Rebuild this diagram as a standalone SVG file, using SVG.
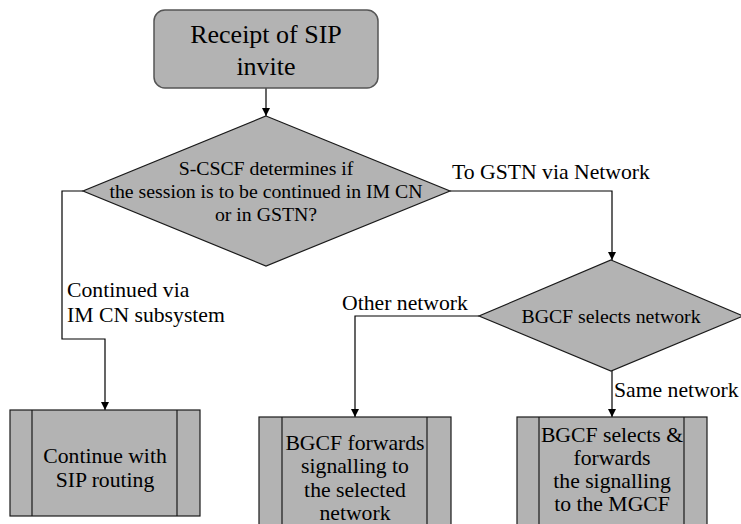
<svg xmlns="http://www.w3.org/2000/svg" width="741" height="524" viewBox="0 0 741 524">
<style>
.shape{fill:#b3b3b3;stroke:#1a1a1a;stroke-width:1.2}
.box{fill:#b3b3b3;stroke:#555;stroke-width:1.5}
.edge{fill:none;stroke:#000;stroke-width:1.2;marker-end:url(#arr)}
text{fill:#000;font-family:"Liberation Serif",Times,"Times New Roman","Noto Serif",Tinos,serif}
.c{text-anchor:middle}
.t26{font-size:26px}
.t22{font-size:21.7px}
.t20{font-size:19.8px}
</style>
<defs>
<marker id="arr" viewBox="0 0 10 10" refX="10" refY="5" markerWidth="8" markerHeight="8" markerUnits="userSpaceOnUse" orient="auto">
<path d="M0,0 L10,5 L0,10 z" fill="#000"/>
</marker>
</defs>
<rect width="741" height="524" fill="#fff"/>
<g id="connectors">
<path class="edge" d="M266,88 V116"/>
<path class="edge" d="M83,191 H62 V339 H105 V410"/>
<path class="edge" d="M450,191 H612 V260"/>
<path class="edge" d="M479,316 H355 V417"/>
<path class="edge" d="M612,371 V417"/>
<text class="t22" x="67" y="297">Continued via</text>
<text class="t22" x="67" y="322">IM CN subsystem</text>
<text class="t22" x="452" y="179">To GSTN via Network</text>
<text class="t22" x="342" y="310">Other network</text>
<text class="t22" x="614" y="397">Same network</text>
</g>
<g id="start">
<rect class="box" x="154" y="10" width="224" height="78" rx="11"/>
<text class="t26 c" x="266" y="43">Receipt of SIP</text>
<text class="t26 c" x="266" y="75">invite</text>
</g>
<g id="decision1">
<polygon class="shape" points="266,116 450,191 266,266 83,191"/>
<text class="t20 c" x="266" y="175">S-CSCF determines if</text>
<text class="t20 c" x="266" y="198">the session is to be continued in IM CN</text>
<text class="t20 c" x="266" y="221">or in GSTN?</text>
</g>
<g id="decision2">
<polygon class="shape" points="611,260 743,316 611,371 479,316"/>
<text class="t20 c" x="611" y="323">BGCF selects network</text>
</g>
<g id="sip">
<rect class="shape" x="10" y="410" width="190" height="106"/>
<path class="shape" d="M32,410 V516 M177,410 V516"/>
<text class="t22 c" x="105" y="463">Continue with</text>
<text class="t22 c" x="105" y="487">SIP routing</text>
</g>
<g id="forward">
<rect class="shape" x="259" y="417" width="192" height="120"/>
<path class="shape" d="M282,417 V537 M427,417 V537"/>
<text class="t22 c" x="355" y="450">BGCF forwards</text>
<text class="t22 c" x="355" y="473">signalling to</text>
<text class="t22 c" x="355" y="497">the selected</text>
<text class="t22 c" x="355" y="520">network</text>
</g>
<g id="mgcf">
<rect class="shape" x="517" y="417" width="190" height="120"/>
<path class="shape" d="M539,417 V537 M684,417 V537"/>
<text class="t22 c" x="612" y="442">BGCF selects &amp;</text>
<text class="t22 c" x="612" y="465">forwards</text>
<text class="t22 c" x="612" y="488">the signalling</text>
<text class="t22 c" x="612" y="511">to the MGCF</text>
</g>
</svg>
